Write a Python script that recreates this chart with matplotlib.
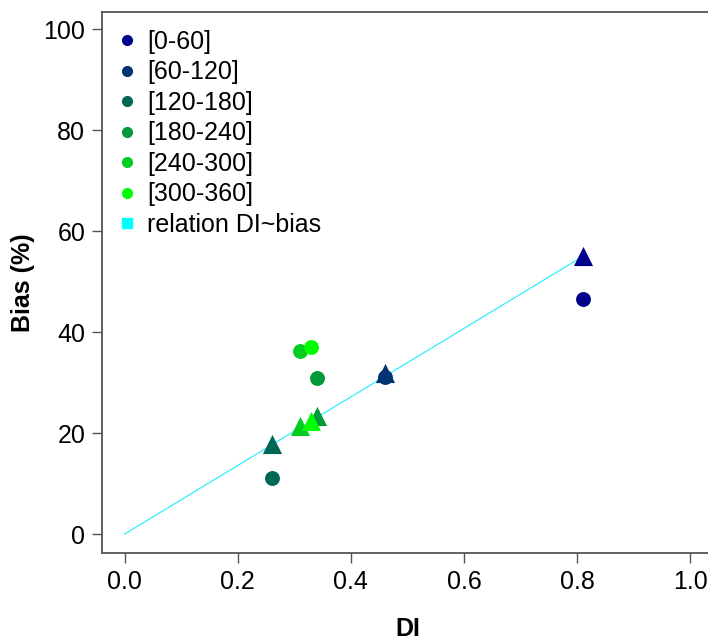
import numpy as np
import matplotlib
matplotlib.use("Agg")
import matplotlib.pyplot as plt
from matplotlib.lines import Line2D

plt.rcParams['font.family'] = ['Liberation Sans', 'DejaVu Sans']

# classes (direction sectors)
classes = ['[0-60]', '[60-120]', '[120-180]', '[180-240]', '[240-300]', '[300-360]']
colors = ['#00008B', '#003370', '#006655', '#00993A', '#00CC22', '#00FF00']

# observed DI and bias (circles)
di = [0.81, 0.46, 0.26, 0.34, 0.31, 0.33]
bias = [46.5, 31.2, 11.0, 31.0, 36.2, 37.0]

# bias predicted from relation DI~bias (triangles)
bias_fit = [55.0, 31.8, 17.8, 23.3, 21.3, 22.4]

# relation line
line_di = [0.0, 0.81]
line_bias = [0.0, 55.0]

fig = plt.figure(figsize=(7.08, 6.42), dpi=100)
ax = fig.add_axes([102 / 708, 89 / 642, 611 / 708, 541 / 642])

ax.plot(line_di, line_bias, color='#33EEFF', lw=0.9, zorder=1)

for i in range(len(classes)):
    ax.scatter(di[i], bias[i], s=115, marker='o', color=colors[i], lw=0, zorder=2)
    ax.scatter(di[i], bias_fit[i], s=190, marker='^', color=colors[i], lw=0, zorder=3)

ax.set_xlim(-0.04, 1.04)
ax.set_ylim(-3.76, 103.4)
ax.set_xticks([0.0, 0.2, 0.4, 0.6, 0.8, 1.0])
ax.set_xticklabels(['0.0', '0.2', '0.4', '0.6', '0.8', '1.0'])
ax.set_yticks([0, 20, 40, 60, 80, 100])

for s in ax.spines.values():
    s.set_color('#555555')
    s.set_linewidth(1.3)
ax.tick_params(direction='out', length=7, width=1.0, color='#555555',
               labelsize=18, pad=5)
ax.set_xlabel('DI', fontsize=18, fontweight='bold', labelpad=17)
ax.set_ylabel('Bias (%)', fontsize=18, fontweight='bold', labelpad=6)

handles = [Line2D([], [], ls='none', marker='o', markersize=7, color=c) for c in colors]
handles.append(Line2D([], [], ls='none', marker='s', markersize=7, color='#00FFFF'))
labels = classes + ['relation DI~bias']
ax.legend(handles, labels, loc='upper left', frameon=False, fontsize=18,
          handletextpad=0.3, labelspacing=0.26, borderaxespad=0.1,
          handlelength=1.0, bbox_to_anchor=(0.0, 0.99))

fig.savefig('out.png', dpi=100)
